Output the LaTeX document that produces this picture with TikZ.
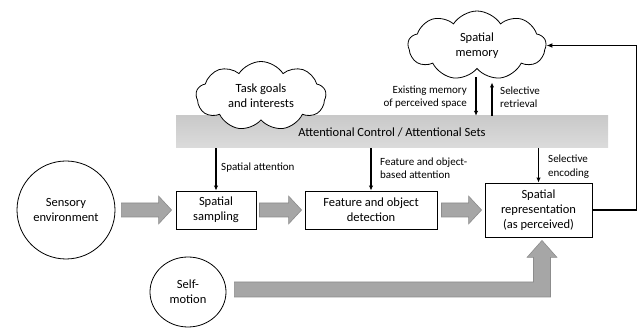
\documentclass[tikz,border=0pt]{standalone}
\usepackage{fontspec}
\setmainfont{Carlito}
\usetikzlibrary{shapes.symbols,shapes.geometric,arrows.meta,calc}
\newcommand{\fatarrow}[2]{%
  \draw[bigarrow] let \p1=(#1), \p2=(#2) in
    (\x1,\y1-7pt) -- (\x2-13pt,\y1-7pt) -- (\x2-13pt,\y1-14pt) -- (\x2,\y1)
    -- (\x2-13pt,\y1+14pt) -- (\x2-13pt,\y1+7pt) -- (\x1,\y1+7pt) -- cycle;}
\begin{document}
\begin{tikzpicture}[x=1pt,y=-1pt,
  nodetxt/.style={font=\fontsize{12.5}{15}\selectfont, align=center},
  lbl/.style={font=\fontsize{11}{13.5}\selectfont, inner sep=0pt},
  box/.style={draw, line width=0.9pt, nodetxt, inner sep=0pt},
  circ/.style={draw, circle, line width=0.8pt, nodetxt, inner sep=0pt},
  cloudnode/.style={draw, cloud, cloud puffs=9, cloud puff arc=115, cloud ignores aspect, line width=0.8pt, fill=white, inner sep=0pt},
  ctl/.style={-{Latex[length=5pt,width=4.5pt]}, line width=1.1pt},
  bigarrow/.style={fill=gray!70, draw=gray!90, line width=0.6pt}
]
\useasboundingbox (0,0) rectangle (638,331);

% attentional bar
\node[top color=gray!42, bottom color=gray!28, draw=none, minimum width=432pt, minimum height=32pt, inner sep=0pt, nodetxt] (bar) at (392,132) {Attentional Control / Attentional Sets};

% clouds
\node[cloudnode, minimum width=130pt, minimum height=69pt,
  label={[nodetxt]center:Task goals\\and interests}] (task) at (261,96) {};
\node[cloudnode, minimum width=138pt, minimum height=69pt,
  label={[nodetxt]center:Spatial\\memory}] (mem) at (477,45.5) {};

% main nodes
\node[circ, minimum size=98pt] (sens) at (66,210) {Sensory\\environment};
\node[box, minimum width=80pt, minimum height=38pt] (samp) at (216,210) {Spatial\\sampling};
\node[box, minimum width=132pt, minimum height=38pt] (feat) at (371,210) {Feature and object\\detection};
\node[box, minimum width=107pt, minimum height=54pt] (rep) at (538.5,210) {Spatial\\representation\\(as perceived)};
\node[draw, ellipse, line width=0.8pt, nodetxt, inner sep=0pt, minimum width=76pt, minimum height=70pt] (self) at (188,292) {Self-\\motion};

% gray process arrows
\fatarrow{$(sens.east)+(6,0)$}{$(samp.west)+(-4,0)$}
\fatarrow{$(samp.east)+(3,0)$}{$(feat.west)+(-3,0)$}
\fatarrow{$(feat.east)+(4,0)$}{$(rep.west)+(-3,0)$}
\draw[bigarrow] let \p1=(self.east), \p2=(rep.south) in
  (\x1+8pt,\y1+10pt) -- (\x2-5pt,\y1+10pt) -- (\x2-5pt,\y2-20pt) -- (\x2-11.5pt,\y2-20pt)
  -- (\x2+3.5pt,\y2-3pt) -- (\x2+18.5pt,\y2-20pt) -- (\x2+12pt,\y2-20pt)
  -- (\x2+12pt,\y1-5pt) -- (\x1+8pt,\y1-5pt) -- cycle;

% control arrows
\draw[ctl] (bar.south -| samp.north) -- (samp.north);
\draw[ctl] (bar.south -| feat.north) -- (feat.north);
\draw[ctl] (bar.south -| rep.north) -- (rep.north);
\coordinate (mdown) at ($(mem.center)+(-1,32)$);
\coordinate (mup) at ($(mem.center)+(15,37)$);
\draw[ctl] (mdown) -- (mdown |- bar.north);
\draw[ctl] (mup |- bar.north) -- (mup);

% loop back to memory
\draw[-{Latex[length=6pt,width=5pt]}, line width=1.8pt] (rep.east) -- ++(44,0) |- (mem.east);

% labels
\node[lbl, anchor=west, align=left] (la) at (221,168) {Spatial attention};
\node[lbl, anchor=west, align=left] (lb) at (380,168) {Feature and object-\\based attention};
\node[lbl, anchor=west, align=left] (lc) at (548,166.5) {Selective\\encoding};
\node[lbl, anchor=east, align=right] (ld) at (467,97) {Existing memory\\of perceived space};
\node[lbl, anchor=west, align=left] (le) at (500,97) {Selective\\retrieval};
\end{tikzpicture}
\end{document}
